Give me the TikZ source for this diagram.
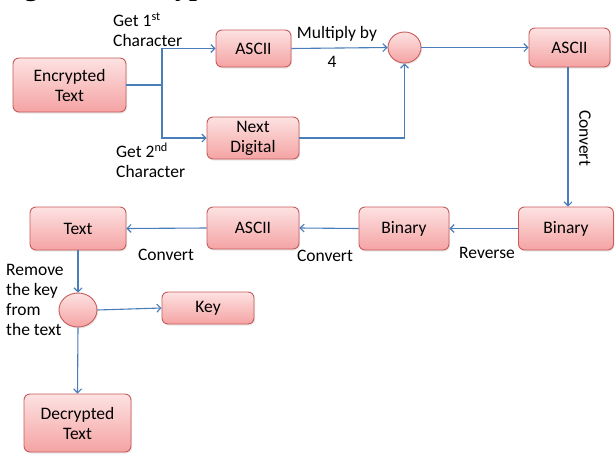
\documentclass[tikz,border=0pt]{standalone}
\usepackage{fontspec}
\setmainfont{Carlito}
\newfontfamily\titlefont{Liberation Serif}
\usetikzlibrary{arrows.meta,shapes.geometric,shadows}

\definecolor{linkblue}{HTML}{4A7EBB}
\definecolor{boxedge}{HTML}{C95B5B}
\definecolor{boxtop}{HTML}{FDE2E2}
\definecolor{boxbottom}{HTML}{F5A3A3}

\tikzset{
  stepbox/.style={rectangle, rounded corners=6pt, draw=boxedge, line width=0.9pt,
    top color=boxtop, bottom color=boxbottom, align=center, inner sep=0pt,
    drop shadow={opacity=0.18, shadow xshift=1pt, shadow yshift=-1.5pt},
    font=\fontsize{17.5}{20}\selectfont},
  joint/.style={ellipse, draw=boxedge, line width=0.9pt, inner sep=0pt,
    top color=boxtop, bottom color=boxbottom,
    drop shadow={opacity=0.18, shadow xshift=1pt, shadow yshift=-1.5pt}},
  link/.style={draw=linkblue, line width=1.1pt, -{Straight Barb[length=4pt,width=8pt]}},
  plain/.style={draw=linkblue, line width=1.1pt},
  note/.style={font=\fontsize{17.5}{20}\selectfont, inner sep=0pt, align=left}
}

\begin{document}
\begin{tikzpicture}[x=1pt, y=-1pt]
  \useasboundingbox (0,0) rectangle (616,453);
  \fill[white] (0,0) rectangle (616,453);

  % caption above the chart, cut by the page edge
  \begin{scope}
    \clip (0,0) rectangle (616,453);
    \node[anchor=base west, inner sep=0pt, font=\titlefont\bfseries\fontsize{28}{32}\selectfont]
      (caption) at (-1,-5) {Figure 4: Decryption};
  \end{scope}

  % boxes
  \node[stepbox, minimum width=113pt, minimum height=54pt] (enc)  at (69.5,85)  {Encrypted\\Text};
  \node[stepbox, minimum width=75pt,  minimum height=37pt] (asc1) at (253.5,48.5) {ASCII};
  \node[stepbox, minimum width=92pt,  minimum height=42pt] (nxt)  at (253,138)  {Next\\Digital};
  \node[joint,   minimum width=33pt,  minimum height=31pt] (mul)  at (404.5,47.5) {};
  \node[stepbox, minimum width=81pt,  minimum height=39pt] (asc2) at (569.5,47.5) {ASCII};
  \node[stepbox, minimum width=95pt,  minimum height=43pt] (bin1) at (566,228.5) {Binary};
  \node[stepbox, minimum width=90pt,  minimum height=43pt] (bin2) at (404,228.5) {Binary};
  \node[stepbox, minimum width=92pt,  minimum height=42pt] (asc3) at (253,228)  {ASCII};
  \node[stepbox, minimum width=96pt,  minimum height=43pt] (txt)  at (78,228.5)  {Text};
  \node[joint,   minimum width=38pt,  minimum height=34pt] (rem)  at (78,310)   {};
  \node[stepbox, minimum width=92pt,  minimum height=32pt] (key)  at (208,308)  {Key};
  \node[stepbox, minimum width=107pt, minimum height=58pt] (dec)  at (77.5,423) {Decrypted\\Text};

  % connectors
  \coordinate (split) at (162,85);
  \draw[plain] (enc.east) -- (split);
  \draw[link] (split) |- (asc1.west);
  \draw[link] (split) |- (nxt.west);
  \draw[link] (asc1.east) -- (mul.west);
  \draw[link] (nxt.east) -| (mul.south);
  \draw[link] (mul.east) -- (asc2.west);
  \draw[link] ([xshift=-1.5pt]asc2.south) -- ([xshift=-1.5pt]asc2.south |- bin1.north);
  \draw[link] (bin1.west) -- (bin2.east);
  \draw[link] (bin2.west) -- (asc3.east);
  \draw[link] (asc3.west) -- (txt.east);
  \draw[link] (txt.south) -- (rem.north);
  \draw[link] (rem.east) -- (key.west);
  \draw[link] (rem.south) -- (dec.north);

  % step labels
  \node[note, anchor=west] (l1) at (113,30) {Get 1\textsuperscript{st}\\Character};
  \node[note, anchor=west] (l2) at (116,160) {Get 2\textsuperscript{nd}\\Character};
  \node[note] (l3) at (337,34) {Multiply by};
  \node[note] (l4) at (332,62) {4};
  \node[note, rotate=-90] (l5) at (585,138) {Convert};
  \node[note] (l6) at (487,253) {Reverse};
  \node[note] (l7) at (325,256) {Convert};
  \node[note] (l8) at (166,255) {Convert};
  \node[note, anchor=west] (l9) at (6,300) {Remove\\the key\\from\\the text};
\end{tikzpicture}
\end{document}
